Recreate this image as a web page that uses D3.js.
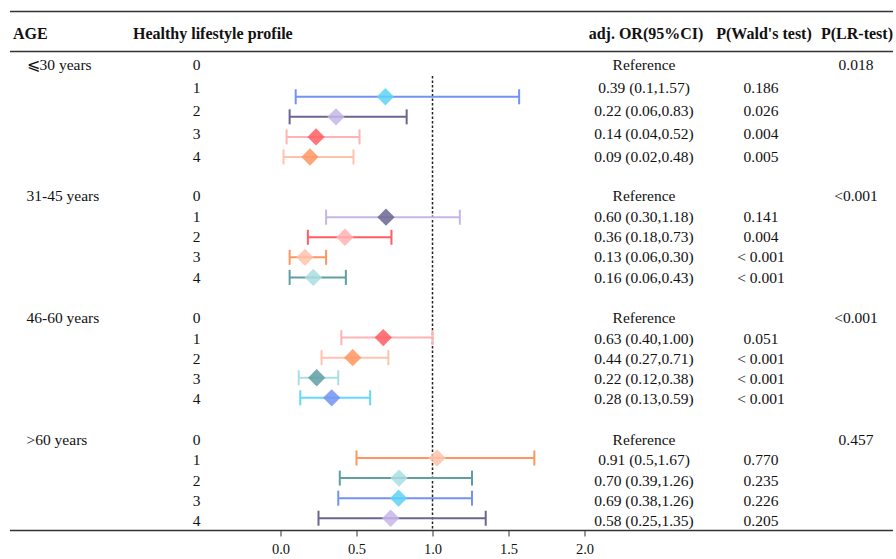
<!DOCTYPE html>
<html>
<head>
<meta charset="utf-8">
<script src="https://cdn.jsdelivr.net/npm/d3@7"></script>
<style>
	body { margin: 0; background: #fff; }
	svg text { font-family: "Liberation Serif", "Times New Roman", serif; fill: #111; }
</style>
</head>
<body>
<svg id="forest" width="896" height="559"></svg>
<script>
const ageGroups = ["⩽30 years", "31-45 years", "46-60 years", ">60 years"];
const profiles = ["0", "1", "2", "3", "4"];
const orText = [
	["Reference", "0.39 (0.1,1.57)", "0.22 (0.06,0.83)", "0.14 (0.04,0.52)", "0.09 (0.02,0.48)"],
	["Reference", "0.60 (0.30,1.18)", "0.36 (0.18,0.73)", "0.13 (0.06,0.30)", "0.16 (0.06,0.43)"],
	["Reference", "0.63 (0.40,1.00)", "0.44 (0.27,0.71)", "0.22 (0.12,0.38)", "0.28 (0.13,0.59)"],
	["Reference", "0.91 (0.5,1.67)", "0.70 (0.39,1.26)", "0.69 (0.38,1.26)", "0.58 (0.25,1.35)"]
];
const waldP = [
	["", "0.186", "0.026", "0.004", "0.005"],
	["", "0.141", "0.004", "< 0.001", "< 0.001"],
	["", "0.051", "< 0.001", "< 0.001", "< 0.001"],
	["", "0.770", "0.235", "0.226", "0.205"]
];
const lrP = ["0.018", "<0.001", "<0.001", "0.457"];

// CI bounds for profiles 1-4
const ciLow = [
	[0.10, 0.06, 0.04, 0.02],
	[0.30, 0.18, 0.06, 0.06],
	[0.40, 0.27, 0.12, 0.13],
	[0.50, 0.39, 0.38, 0.25]
];
const ciHigh = [
	[1.57, 0.83, 0.52, 0.48],
	[1.18, 0.73, 0.30, 0.43],
	[1.00, 0.71, 0.38, 0.59],
	[1.67, 1.26, 1.26, 1.35]
];
// where the diamonds sit in the figure (not the printed OR)
const markerX = [
	[0.69, 0.365, 0.234, 0.194],
	[0.694, 0.424, 0.161, 0.216],
	[0.676, 0.475, 0.238, 0.337],
	[1.03, 0.78, 0.777, 0.725]
];
const xTicks = [0, 0.5, 1, 1.5, 2];

// colour pairs [line, diamond]
const blue = "#7393f2", cyan = "#5fd2f7", plum = "#6b6590", lav = "#c6b6e8",
	pink = "#ffb3b3", red = "#ff5d63", peach = "#ffc3ad", orange = "#ff9560",
	teal = "#5f9fa3", ltTeal = "#a9dfe2", ltCyan = "#64d8fb";
const colors = [
	[[blue, cyan], [plum, lav], [pink, red], [peach, orange]],
	[[lav, plum], [red, pink], [orange, peach], [teal, ltTeal]],
	[[pink, red], [peach, orange], [ltTeal, teal], [ltCyan, blue]],
	[[orange, peach], [teal, ltTeal], [blue, cyan], [plum, lav]]
];

const svg = d3.select("#forest");
const x = d3.scaleLinear().domain([0, 2]).range([280.5, 584.5]);
// bar rows: 6 slots per group (5 rows + gap)
const yBar = d3.scaleLinear().domain([0, 23]).range([76.7, 76.7 + 23 * 20.07]);
const textY = (g, r) => g === 0 ? 65 + r * 23 : 196 + ((g - 1) * 6 + r) * 20.3;

// rules
const rule = (y) => svg.append("line").attr("x1", 10).attr("x2", 893)
	.attr("y1", y).attr("y2", y).attr("stroke", "#333").attr("stroke-width", 1.3);
rule(11.5);
rule(51.5);

// header
const header = [
	{ t: "AGE", x: 13, anchor: "start" },
	{ t: "Healthy lifestyle profile", x: 133, anchor: "start" },
	{ t: "adj. OR(95%CI)", x: 646, anchor: "middle" },
	{ t: "P(Wald's test)", x: 764, anchor: "middle" },
	{ t: "P(LR-test)", x: 857, anchor: "middle" }
];
svg.append("g").selectAll("text").data(header).join("text")
	.attr("x", d => d.x).attr("y", 33).attr("dy", "0.35em")
	.attr("text-anchor", d => d.anchor)
	.attr("font-size", "16px").attr("font-weight", "bold")
	.text(d => d.t);

// text columns
const body = svg.append("g").attr("font-size", "15.5px");
ageGroups.forEach((age, g) => {
	body.append("text").attr("x", 26.5).attr("y", textY(g, 0)).attr("dy", "0.35em").text(age);
	body.append("text").attr("x", 856).attr("y", textY(g, 0)).attr("dy", "0.35em")
		.attr("text-anchor", "middle").text(lrP[g]);
	profiles.forEach((p, r) => {
		const y = textY(g, r);
		body.append("text").attr("x", 196.5).attr("y", y).attr("dy", "0.35em")
			.attr("text-anchor", "middle").text(p);
		body.append("text").attr("x", 644).attr("y", y).attr("dy", "0.35em")
			.attr("text-anchor", "middle").text(orText[g][r]);
		if (waldP[g][r]) body.append("text").attr("x", 761).attr("y", y).attr("dy", "0.35em")
			.attr("text-anchor", "middle").text(waldP[g][r]);
	});
});

// reference line at OR = 1
svg.append("line")
	.attr("x1", x(1)).attr("x2", x(1)).attr("y1", 76).attr("y2", 530)
	.attr("stroke", "#222").attr("stroke-width", 1.5).attr("stroke-dasharray", "2.5,2");

// error bars and diamonds
const rows = [];
ageGroups.forEach((age, g) => {
	markerX[g].forEach((m, i) => {
		rows.push({ g, r: i + 1, lo: ciLow[g][i], hi: ciHigh[g][i], m,
			line: colors[g][i][0], fill: colors[g][i][1] });
	});
});
const bars = svg.append("g").selectAll("g").data(rows).join("g")
	.attr("transform", d => `translate(0, ${yBar(d.g * 6 + d.r)})`);
bars.append("line").attr("x1", d => x(d.lo)).attr("x2", d => x(d.hi))
	.attr("stroke", d => d.line).attr("stroke-width", 2);
bars.append("line").attr("x1", d => x(d.lo)).attr("x2", d => x(d.lo))
	.attr("y1", -7.5).attr("y2", 7.5).attr("stroke", d => d.line).attr("stroke-width", 2);
bars.append("line").attr("x1", d => x(d.hi)).attr("x2", d => x(d.hi))
	.attr("y1", -7.5).attr("y2", 7.5).attr("stroke", d => d.line).attr("stroke-width", 2);
bars.append("path")
	.attr("d", d3.symbol(d3.symbolSquare, 150))
	.attr("transform", d => `translate(${x(d.m)}, 0) rotate(45)`)
	.attr("fill", d => d.fill).attr("fill-opacity", 0.85);

// bottom rule + axis
rule(530.5);
const axis = svg.append("g").attr("transform", "translate(0, 530.5)")
	.call(d3.axisBottom(x).tickValues(xTicks).tickFormat(d3.format(".1f")).tickSize(6).tickPadding(7));
axis.select(".domain").remove();
axis.selectAll("line").attr("stroke", "#333");
axis.selectAll("text").attr("font-size", "14.5px").attr("font-family", "'Liberation Serif', serif").attr("fill", "#222");
</script>
</body>
</html>
